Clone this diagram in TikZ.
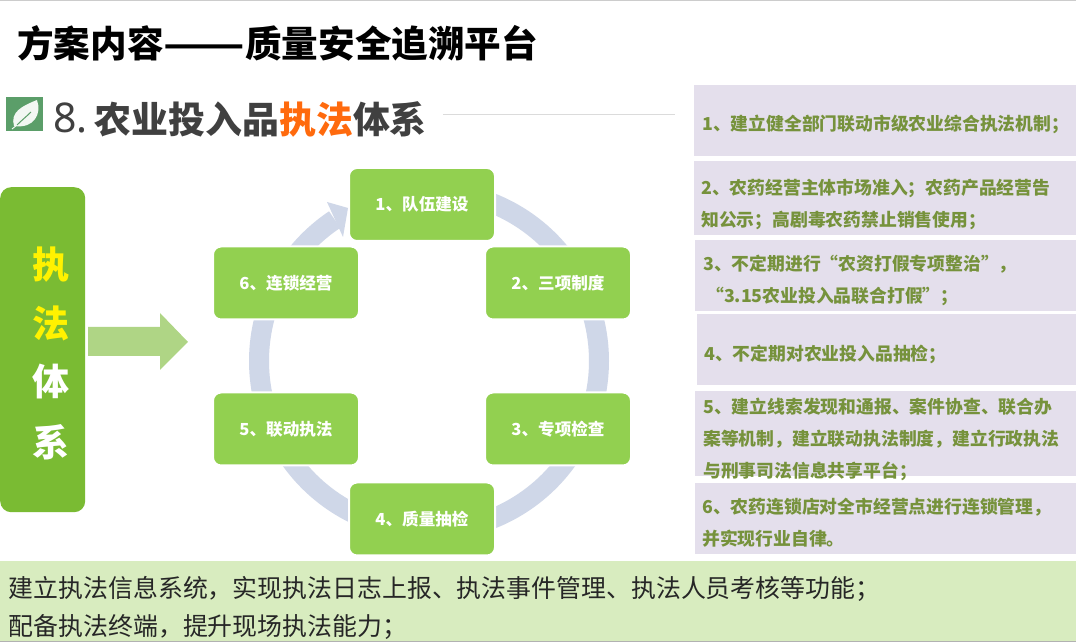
\documentclass[tikz,border=0pt]{standalone}
\usepackage{fontspec}
\setmainfont{Noto Sans CJK SC}
\newfontfamily\latinf{Noto Sans}
\usetikzlibrary{calc}
\definecolor{boxgreen}{HTML}{92D050}
\definecolor{ringblue}{HTML}{CFD7E8}
\definecolor{panelc}{HTML}{E4DFEC}
\definecolor{paneltext}{HTML}{76923C}
\definecolor{bandc}{HTML}{D8ECBF}
\definecolor{leftgreen}{HTML}{7ABB33}
\definecolor{arrowc}{HTML}{AFD585}
\definecolor{iconc}{HTML}{5B9E69}
\definecolor{headc}{HTML}{404040}
\definecolor{hot}{HTML}{FF6A0D}
\tikzset{
  stepbox/.style={rectangle,rounded corners=8pt,fill=boxgreen,draw=white,line width=2pt,
    minimum width=146pt,minimum height=73pt,inner sep=0pt,text=white,font=\bfseries\fontsize{16.6}{18}\selectfont},
  panel/.style={rectangle,fill=panelc,inner sep=0pt,anchor=north west},
  ptext/.style={anchor=west,inner sep=0pt,align=left,text=paneltext,font=\bfseries\fontsize{17.8}{32}\selectfont},
  ringline/.style={draw=ringblue,line width=20pt},
  sidechar/.style={inner sep=0pt,font=\bfseries\fontsize{37}{40}\selectfont},
}
\begin{document}
\begin{tikzpicture}[x=1pt,y=1pt]
\useasboundingbox (0,0) rectangle (1076,642);
\fill[white] (0,0) rectangle (1076,642);
\fill[black!20] (0,641) rectangle (1076,642);
% title
\node[anchor=west,inner sep=0pt,font=\bfseries\fontsize{36.6}{40}\selectfont] (title) at (17,599) {方案内容\scalebox{1.3}[1]{——}质量安全追溯平台};
% icon
\fill[iconc] (6,511) rectangle (43,545);
\fill[white!92!iconc] (14,516) .. controls (10,530) and (22,536) .. (37,542) .. controls (42,528) and (34,513) .. (14,516) -- cycle;
\draw[iconc,line width=1pt] (17,517) .. controls (22,522) and (26,525) .. (31,530);
\draw[white!92!iconc,line width=1pt] (12,513) -- (17,517);
% heading
\node[anchor=west,inner sep=0pt,text=headc,font=\latinf\fontsize{41}{44}\selectfont] (num) at (53,524) {8.};
\node[anchor=west,inner sep=0pt,text=headc,font=\bfseries\fontsize{36.9}{40}\selectfont] (head) at (94.5,523) {农业投入品\textcolor{hot}{执法}体系};
\draw[black!14,line width=0.8pt] (443,528) -- (675,528);
% left bar
\node[rectangle,rounded corners=11pt,fill=leftgreen,inner sep=0pt,anchor=north west,minimum width=85pt,minimum height=325pt] (bar) at (0,455) {};
\node[sidechar,text=yellow] (c1) at (51,377) {执};
\node[sidechar,text=yellow] (c2) at (51,319) {法};
\node[sidechar,text=white] (c3) at (51,260) {体};
\node[sidechar,text=white] (c4) at (51,200) {系};
% big arrow
\fill[arrowc] (88,315) -- (160,315) -- (160,329) -- (188,300) -- (160,272) -- (160,286) -- (88,286) -- cycle;
% ring
\coordinate (rc) at (429,281);
\coordinate (r1) at ($(rc)+(90:170)$);
\coordinate (r2) at ($(rc)+(30:170)$);
\coordinate (r3) at ($(rc)+(-30:170)$);
\coordinate (r4) at ($(rc)+(-90:170)$);
\coordinate (r5) at ($(rc)+(-150:170)$);
\coordinate (r6) at ($(rc)+(150:170)$);
\draw[ringline] (r1) arc[start angle=90,end angle=30,radius=170];
\draw[ringline] (r2) arc[start angle=30,end angle=-30,radius=170];
\draw[ringline] (r3) arc[start angle=-30,end angle=-90,radius=170];
\draw[ringline] (r4) arc[start angle=-90,end angle=-150,radius=170];
\draw[ringline] (r5) arc[start angle=-150,end angle=-210,radius=170];
\draw[ringline] (r6) arc[start angle=150,end angle=123.7,radius=170];
\fill[ringblue] (327,440) -- (348,434) -- (343,405) -- cycle;
% steps
\node[stepbox] (n1) at (422,437.5) {1、队伍建设};
\node[stepbox] (n2) at (558,359) {2、三项制度};
\node[stepbox] (n3) at (558,213) {3、专项检查};
\node[stepbox] (n4) at (422,123) {4、质量抽检};
\node[stepbox] (n5) at (286,213) {5、联动执法};
\node[stepbox] (n6) at (286,359) {6、连锁经营};
% panels
\node[panel,minimum width=382pt,minimum height=71pt] (p1) at (694,557) {};
\node[panel,minimum width=382pt,minimum height=74pt] (p2) at (694,481) {};
\node[panel,minimum width=381pt,minimum height=71pt] (p3) at (695,402) {};
\node[panel,minimum width=379pt,minimum height=71pt] (p4) at (697,328) {};
\node[panel,minimum width=381pt,minimum height=85pt] (p5) at (695,251) {};
\node[panel,minimum width=381pt,minimum height=71pt] (p6) at (695,159) {};
\node[ptext] (t1) at (702,518) {1、建立健全部门联动市级农业综合执法机制；};
\node[ptext] (t2) at (701,438) {2、农药经营主体市场准入；农药产品经营告\\知公示；高剧毒农药禁止销售使用；};
\node[ptext] (t3) at (703,362) {3、不定期进行“农资打假专项整治”，\\\hspace*{3pt}“3.15农业投入品联合打假”；};
\node[ptext] (t4) at (704,288) {4、不定期对农业投入品抽检；};
\node[ptext] (t5) at (703,203) {5、建立线索发现和通报、案件协查、联合办\\案等机制，建立联动执法制度，建立行政执法\\与刑事司法信息共享平台；};
\node[ptext] (t6) at (702,119) {6、农药连锁店对全市经营点进行连锁管理，\\并实现行业自律。};
% bottom band
\node[rectangle,fill=bandc,inner sep=0pt,anchor=south west,minimum width=1076pt,minimum height=80pt] (band) at (0,1) {};
\fill[black!30] (0,0) rectangle (1076,1);
\node[anchor=west,inner sep=0pt,align=left,text=black!85,font=\fontsize{24.9}{38}\selectfont] (btext) at (8.5,34) {建立执法信息系统，实现执法日志上报、执法事件管理、执法人员考核等功能；\\配备执法终端，提升现场执法能力；};
\end{tikzpicture}
\end{document}
